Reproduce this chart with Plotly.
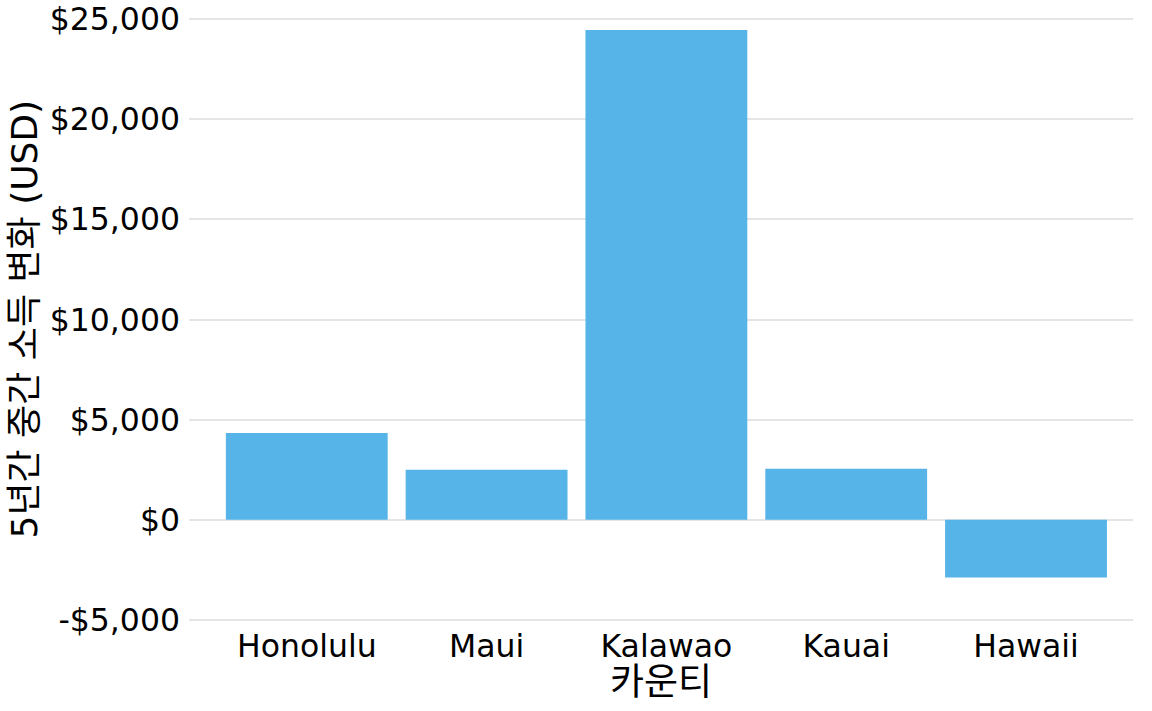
import plotly.graph_objects as go

counties = ["Honolulu", "Maui", "Kalawao", "Kauai", "Hawaii"]
income_change = [4340, 2495, 24450, 2545, -2880]
y_tick_vals = [-5000, 0, 5000, 10000, 15000, 20000, 25000]
y_tick_text = ["-$5,000", "$0", "$5,000", "$10,000", "$15,000", "$20,000", "$25,000"]
x_title = "카운티"
y_title = "5년간 중간 소득 변화 (USD)"

FONT = "DejaVu Sans, Noto Sans CJK KR, sans-serif"

fig = go.Figure(
    go.Bar(
        x=counties,
        y=income_change,
        marker=dict(color="#56B4E9", line=dict(width=0)),
        width=0.9,
        hoverinfo="x+y",
    )
)

fig.update_layout(
    width=1152,
    height=711,
    margin=dict(l=189, r=19, t=15, b=87),
    paper_bgcolor="white",
    plot_bgcolor="white",
    showlegend=False,
    font=dict(family=FONT, color="#000000"),
    bargap=0.1,
    annotations=[
        dict(
            text=y_title,
            xref="paper", yref="paper",
            x=0, y=0.5,
            xshift=-165, xanchor="center", yanchor="middle",
            textangle=-90,
            showarrow=False,
            font=dict(size=36, color="#000000"),
        ),
        dict(
            text=x_title,
            xref="paper", yref="paper",
            x=0.5, y=0,
            yshift=-58, xanchor="center", yanchor="middle",
            showarrow=False,
            font=dict(size=37, color="#000000"),
        ),
    ],
)

fig.update_xaxes(
    type="category",
    range=[-0.655, 4.595],
    automargin=False,
    showgrid=False,
    zeroline=False,
    showline=False,
    ticks="",
    tickfont=dict(size=31.5, color="#000000"),
    ticklabelstandoff=0,
    ticklabeloverflow="allow",
)

fig.update_yaxes(
    range=[-5200, 25200],
    automargin=False,
    tickvals=y_tick_vals,
    ticktext=y_tick_text,
    showgrid=True,
    gridcolor="#E5E5E5",
    gridwidth=2,
    zeroline=False,
    showline=False,
    ticks="",
    tickfont=dict(size=31.5, color="#000000"),
    ticklabelstandoff=8,
    ticklabeloverflow="allow",
)

fig.write_html(
    "out.html",
    config={"displayModeBar": False},
    post_script="document.body.style.margin='0';",
)
